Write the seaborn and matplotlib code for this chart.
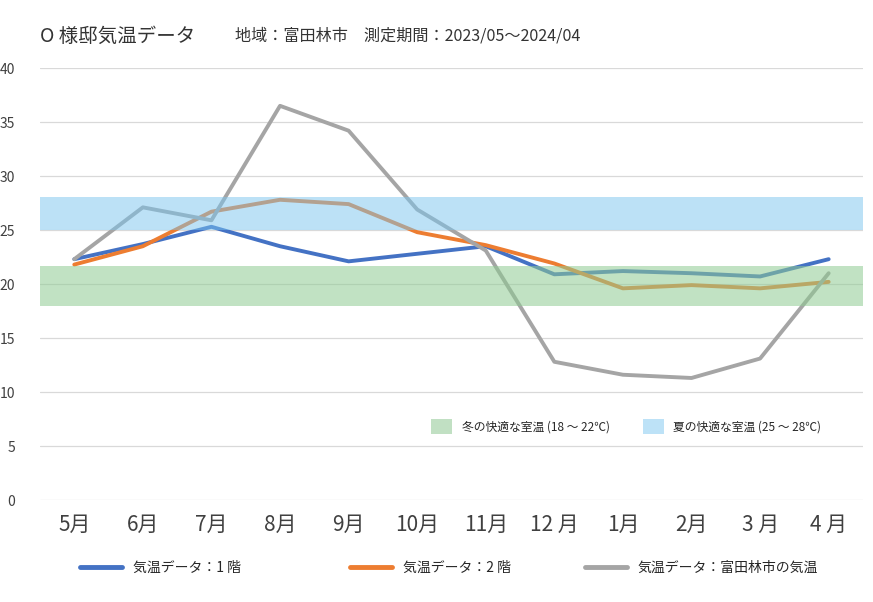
import pandas as pd
import matplotlib.pyplot as plt
import seaborn as sns
from matplotlib.patches import Patch
from matplotlib.lines import Line2D

# monthly temperatures
months = ['5月', '6月', '7月', '8月', '9月', '10月', '11月', '12 月', '1月', '2月', '3 月', '4 月']
floor1 = [22.3, 23.7, 25.3, 23.5, 22.1, 22.8, 23.5, 20.9, 21.2, 21.0, 20.7, 22.3]
floor2 = [21.8, 23.5, 26.7, 27.8, 27.4, 24.8, 23.6, 21.9, 19.6, 19.9, 19.6, 20.2]
city = [22.3, 27.1, 25.9, 36.5, 34.2, 26.9, 23.1, 12.8, 11.6, 11.3, 13.1, 21.0]
series_names = ['気温データ：1 階', '気温データ：2 階', '気温データ：富田林市の気温']
winter_band = (18, 21.7)
summer_band = (25, 28.1)
band_names = ['冬の快適な室温 (18 ～ 22℃)', '夏の快適な室温 (25 ～ 28℃)']
y_ticks = [0, 5, 10, 15, 20, 25, 30, 35, 40]

sns.set_style('white')
plt.rcParams['font.family'] = ['Noto Sans CJK JP', 'DejaVu Sans']

df = pd.DataFrame({'x': range(len(months)), 'f1': floor1, 'f2': floor2, 'city': city})

fig = plt.figure(figsize=(8.73, 6.02), dpi=100)
ax = fig.add_axes([0.0458, 0.1694, 0.9427, 0.7176])

colors = ['#4472C4', '#ED7D31', '#A5A5A5']
for col, c in zip(['f1', 'f2', 'city'], colors):
    sns.lineplot(data=df, x='x', y=col, color=c, linewidth=2.8, ax=ax, zorder=2)

# comfort bands drawn over the lines
ax.axhspan(*winter_band, color='#8fcb92', alpha=0.55, lw=0, zorder=3)
ax.axhspan(*summer_band, color='#7bc5ef', alpha=0.5, lw=0, zorder=3)

ax.set_xlim(-0.5, len(months) - 0.5)
ax.set_ylim(0, 40)
ax.set_yticks(y_ticks)
ax.set_yticklabels([str(v) for v in y_ticks], fontsize=10, color='#404040')
ax.set_xticks(range(len(months)))
ax.set_xticklabels(months, fontsize=15, color='#404040')
ax.tick_params(axis='x', pad=10, length=0)
ax.tick_params(axis='y', pad=18, length=0)
ax.grid(axis='y', color='#d9d9d9', linewidth=0.9)
ax.set_axisbelow(True)
ax.set_xlabel('')
ax.set_ylabel('')
for s in ax.spines.values():
    s.set_visible(False)

fig.text(0.046, 0.94, 'O 様邸気温データ', fontsize=14, color='#333333', va='center')
fig.text(0.269, 0.94, '地域：富田林市　測定期間：2023/05～2024/04', fontsize=11.6, color='#333333', va='center')

band_handles = [Patch(facecolor='#c1e0c3', edgecolor='none'),
                Patch(facecolor='#bde2f7', edgecolor='none')]
ax.legend(band_handles, band_names, loc='lower left', bbox_to_anchor=(0.462, 0.128),
          ncol=2, frameon=False, fontsize=8.5, handlelength=1.8, handleheight=1.6,
          columnspacing=2.8, handletextpad=0.8)

# bottom legend: one entry per position
leg_x = [0.092, 0.401, 0.670]
for name, c, x in zip(series_names, colors, leg_x):
    h = Line2D([0], [0], color=c, linewidth=3.5)
    fig.legend([h], [name], loc='center left', bbox_to_anchor=(x, 0.057),
               frameon=False, fontsize=10, handlelength=3.0, handletextpad=0.8,
               borderaxespad=0, borderpad=0)

fig.savefig('out.png', dpi=100)
